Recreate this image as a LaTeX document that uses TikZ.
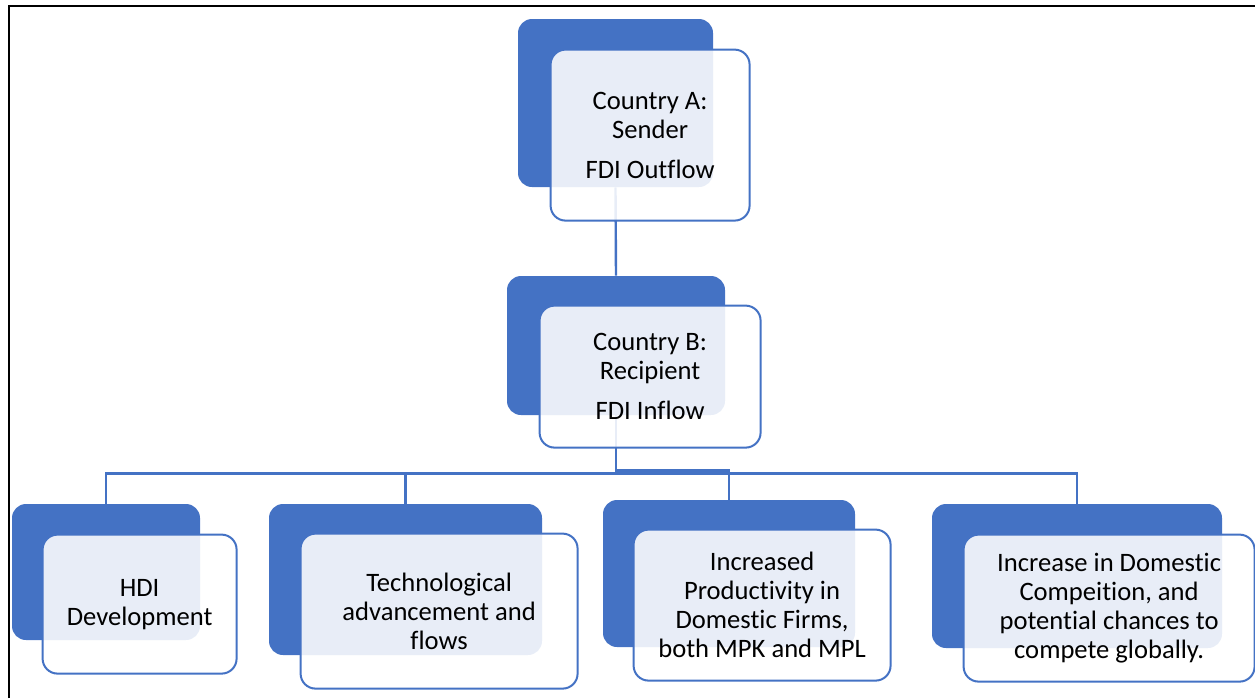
\documentclass[tikz,border=0pt]{standalone}
\usepackage{fontspec}
\setmainfont{Carlito}[Ligatures=NoCommon]
\definecolor{accent}{HTML}{4472C4}

\begin{document}
\begin{tikzpicture}[x=0.5pt, y=-0.5pt,
  backbox/.style={fill=accent, rounded corners=7pt, inner sep=0pt},
  frontbox/.style={draw=accent, line width=1pt, fill=white, fill opacity=0.88,
    text opacity=1, rounded corners=7.5pt, anchor=north west, align=center,
    inner sep=2pt, font=\fontsize{13.3}{14.5}\selectfont},
  link/.style={draw=accent, line width=1.2pt}]
\useasboundingbox (0,0) rectangle (1255,698);
\draw [line width=1pt] (9,698) -- (9,5.5) -- (1255,5.5);

\node [backbox, minimum width=97.5pt, minimum height=84pt] (senderback) at (615.5,103) {};
\node [backbox, minimum width=109pt, minimum height=69.5pt] (recipback) at (616,345.5) {};
\node [backbox, minimum width=94pt, minimum height=68pt] (hdiback) at (106,572) {};
\node [backbox, minimum width=136.5pt, minimum height=75.5pt] (techback) at (405.5,579.5) {};
\node [backbox, minimum width=126pt, minimum height=73.5pt] (prodback) at (729,573.5) {};
\node [backbox, minimum width=145pt, minimum height=72pt] (compback) at (1077,576) {};

%%%%%%%%%%%%%%%%%%%%%%%%%%%%%%%%%%%%%%%%

\draw [link] (senderback.south) -- (recipback.north);
\draw [link] (recipback.south) -- ++(0,58) -| (hdiback.north);
\draw [link] (recipback.south) -- ++(0,58) -| (techback.north);
\draw [link] (recipback.south) -- ++(0,55) -| (prodback.north);
\draw [link] (recipback.south) -- ++(0,58) -| (compback.north);

%%%%%%%%%%%%%%%%%%%%%%%%%%%%%%%%%%%%%%%%

\node [frontbox, minimum width=99.5pt, minimum height=85.5pt] (sender)
  at ([shift={(32,30)}]senderback.north west) {Country A:\\Sender\\[5.5pt]FDI Outflow};
\node [frontbox, minimum width=110.5pt, minimum height=71pt] (recip)
  at ([shift={(32,29)}]recipback.north west) {Country B:\\Recipient\\[5.5pt]FDI Inflow};
\node [frontbox, minimum width=97pt, minimum height=69.5pt] (hdi)
  at ([shift={(30,30)}]hdiback.north west) {HDI\\Development};
\node [frontbox, minimum width=138.5pt, minimum height=77.5pt] (tech)
  at ([shift={(31,29)}]techback.north west) {Technological\\advancement and\\flows};
\node [frontbox, minimum width=128.5pt, minimum height=75.5pt] (prod)
  at ([shift={(30,29)}]prodback.north west) {Increased\\Productivity in\\Domestic Firms,\\both MPK and MPL};
\node [frontbox, minimum width=145.5pt, minimum height=73.5pt] (comp)
  at ([shift={(31,30)}]compback.north west) {Increase in Domestic\\Compeition, and\\potential chances to\\compete globally.};

\end{tikzpicture}
\end{document}
